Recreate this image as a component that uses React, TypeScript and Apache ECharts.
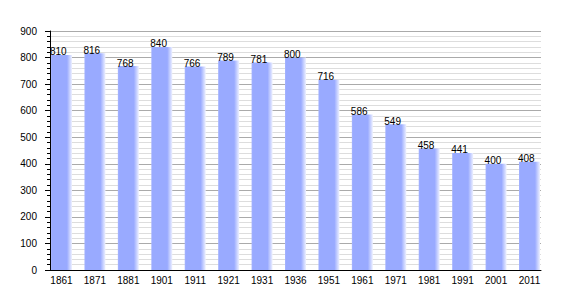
import React, { useEffect, useRef } from "react";
import * as echarts from "echarts";

const years = ["1861","1871","1881","1901","1911","1921","1931","1936","1951","1961","1971","1981","1991","2001","2011"];
const population = [810, 816, 768, 840, 766, 789, 781, 800, 716, 586, 549, 458, 441, 400, 408];
const yTicks = { min: 0, max: 900, interval: 100 };

export default function App() {
  const ref = useRef<HTMLDivElement>(null);
  useEffect(() => {
    if (!ref.current) return;
    const chart = echarts.init(ref.current, null, { renderer: "svg" });
    const font = "'Liberation Sans', Arial, sans-serif";
    const idx = years.map((_, i) => i);
    chart.setOption({
      animation: false,
      backgroundColor: "#ffffff",
      grid: { left: 50, right: 29, top: 31, bottom: 30, containLabel: false },
      xAxis: {
        type: "value",
        min: -0.344,
        max: 14.344,
        splitLine: { show: false },
        axisTick: { show: false },
        axisLine: { show: true, onZero: false, lineStyle: { color: "#000", width: 1 } },
        axisLabel: {
          customValues: idx,
          formatter: (v: number) => years[Math.round(v)] ?? "",
          color: "#000",
          fontSize: 10,
          fontFamily: font,
          margin: 5,
        },
      },
      yAxis: {
        type: "value",
        min: yTicks.min,
        max: yTicks.max,
        interval: yTicks.interval,
        axisLine: { show: true, onZero: false, lineStyle: { color: "#000", width: 1 } },
        axisTick: { show: true, length: 5, lineStyle: { color: "#000" } },
        minorTick: { show: true, splitNumber: 5, length: 3, lineStyle: { color: "#000" } },
        splitLine: { show: true, lineStyle: { color: "#aaaaaa", width: 1 } },
        minorSplitLine: { show: true, lineStyle: { color: "#dddddd", width: 1 } },
        axisLabel: { color: "#000", fontSize: 10, fontFamily: font, margin: 13 },
      },
      series: [
        {
          type: "bar",
          data: population.map((v, i) => [i, v]),
          barWidth: 21,
          itemStyle: {
            color: new echarts.graphic.LinearGradient(0, 0, 1, 0, [
              { offset: 0, color: "#a8b6ff" },
              { offset: 0.06, color: "#99aaff" },
              { offset: 0.76, color: "#99aaff" },
              { offset: 1, color: "#eef1ff" },
            ]),
          },
          label: {
            show: true,
            position: [-1, 2],
            align: "left",
            verticalAlign: "bottom",
            color: "#000",
            fontSize: 10,
            fontFamily: font,
          },
        },
      ],
    });
    return () => chart.dispose();
  }, []);
  return (
    <div
      ref={ref}
      style={{ position: "fixed", left: 0, top: 0, width: 570, height: 300, background: "#fff" }}
    />
  );
}
